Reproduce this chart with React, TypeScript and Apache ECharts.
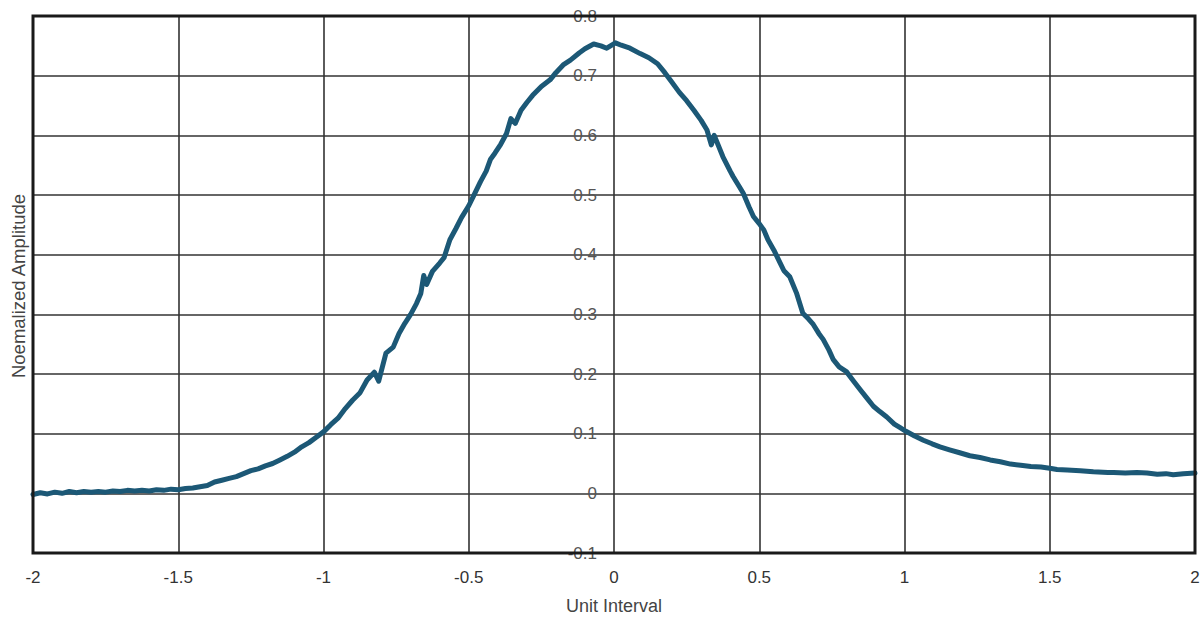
import React, { useEffect, useRef } from "react";
import * as echarts from "echarts";

const xValues: number[] = [
  -2.0, -1.975, -1.95, -1.925, -1.9, -1.875, -1.85, -1.825, -1.8, -1.775, -1.75, -1.725, -1.7, -1.675, -1.65, -1.625,
  -1.6, -1.575, -1.55, -1.525, -1.5, -1.475, -1.45, -1.425, -1.4, -1.375, -1.35, -1.325, -1.3, -1.275, -1.25, -1.225,
  -1.2, -1.175, -1.15, -1.125, -1.1, -1.075, -1.05, -1.025, -1.0, -0.975, -0.95, -0.925, -0.9, -0.875, -0.85, -0.825,
  -0.81, -0.785, -0.76, -0.74, -0.72, -0.7, -0.68, -0.665, -0.655, -0.645, -0.625, -0.6, -0.585, -0.565, -0.545, -0.525,
  -0.5, -0.48, -0.46, -0.44, -0.425, -0.41, -0.39, -0.37, -0.355, -0.34, -0.32, -0.3, -0.28, -0.25, -0.22, -0.2,
  -0.175, -0.15, -0.12, -0.1, -0.07, -0.045, -0.025, -0.005, 0.005, 0.025, 0.055, 0.09, 0.12, 0.15, 0.175, 0.195,
  0.225, 0.25, 0.275, 0.3, 0.32, 0.335, 0.345, 0.375, 0.4, 0.41, 0.43, 0.445, 0.465, 0.48, 0.5, 0.515,
  0.53, 0.55, 0.57, 0.585, 0.605, 0.628, 0.65, 0.67, 0.686, 0.705, 0.72, 0.74, 0.755, 0.775, 0.8, 0.825,
  0.847, 0.87, 0.893, 0.915, 0.939, 0.965, 0.985, 1.005, 1.035, 1.065, 1.095, 1.122, 1.155, 1.19, 1.225, 1.26,
  1.295, 1.33, 1.365, 1.4, 1.435, 1.47, 1.5, 1.525, 1.56, 1.605, 1.65, 1.7, 1.72, 1.76, 1.8, 1.835,
  1.87, 1.9, 1.925, 1.96, 2.0,
];

const amplitudes: number[] = [
  -0.002, 0.001, -0.001, 0.002, 0.0, 0.003, 0.001, 0.003, 0.002, 0.003, 0.002, 0.004, 0.003, 0.005, 0.004, 0.005,
  0.004, 0.006, 0.005, 0.007, 0.006, 0.008, 0.009, 0.011, 0.013, 0.019, 0.022, 0.025, 0.028, 0.033, 0.038, 0.041,
  0.046, 0.05, 0.056, 0.062, 0.069, 0.078, 0.085, 0.094, 0.103, 0.115, 0.126, 0.142, 0.156, 0.168, 0.19, 0.203,
  0.188, 0.235, 0.245, 0.268, 0.285, 0.3, 0.318, 0.335, 0.365, 0.35, 0.372, 0.386, 0.395, 0.425, 0.443, 0.462,
  0.482, 0.502, 0.522, 0.54, 0.56, 0.57, 0.585, 0.603, 0.628, 0.62, 0.642, 0.655, 0.667, 0.682, 0.693, 0.705,
  0.718, 0.726, 0.738, 0.745, 0.753, 0.75, 0.746, 0.752, 0.755, 0.751, 0.746, 0.737, 0.73, 0.72, 0.705, 0.692,
  0.672, 0.658, 0.642, 0.625, 0.609, 0.584, 0.6, 0.564, 0.54, 0.531, 0.515, 0.503, 0.48, 0.464, 0.452, 0.442,
  0.425, 0.408, 0.388, 0.373, 0.363, 0.336, 0.302, 0.292, 0.283, 0.268, 0.258, 0.24, 0.224, 0.212, 0.204, 0.188,
  0.174, 0.16, 0.146, 0.137, 0.128, 0.116, 0.11, 0.104, 0.096, 0.089, 0.083, 0.078, 0.073, 0.068, 0.063, 0.06,
  0.056, 0.053, 0.049, 0.047, 0.045, 0.044, 0.042, 0.04, 0.039, 0.038, 0.036, 0.035, 0.035, 0.034, 0.035, 0.034,
  0.032, 0.033, 0.031, 0.033, 0.034,
];

const xAxisTitle = "Unit Interval";
const yAxisTitle = "Noemalized Amplitude";

const FONT = "'Liberation Sans', Arial, sans-serif";
const GRID_LEFT = 33;
const GRID_RIGHT = 9;
const WIDTH = 1204;

export default function App() {
  const ref = useRef<HTMLDivElement>(null);

  useEffect(() => {
    if (!ref.current) return;
    const chart = echarts.init(ref.current, undefined, { renderer: "svg" });
    const seriesData = xValues.map((x, i) => [x, amplitudes[i]]);
    const plotWidth = WIDTH - GRID_LEFT - GRID_RIGHT;
    chart.setOption({
      animation: false,
      backgroundColor: "#ffffff",
      grid: {
        left: GRID_LEFT,
        right: GRID_RIGHT,
        top: 16,
        bottom: 64,
        containLabel: false,
        outerBoundsMode: "none",
        show: true,
        borderColor: "#1a1a1a",
        borderWidth: 3,
        backgroundColor: "transparent",
        z: 10,
      },
      xAxis: {
        type: "value",
        min: -2,
        max: 2,
        interval: 0.5,
        name: xAxisTitle,
        nameLocation: "middle",
        nameGap: 44,
        nameTextStyle: { fontFamily: FONT, fontSize: 18, color: "#444" },
        axisLine: { show: false, onZero: false },
        axisTick: { show: false },
        axisLabel: {
          fontFamily: FONT,
          fontSize: 17,
          color: "#333",
          margin: 16,
          showMinLabel: true,
          showMaxLabel: true,
        },
        splitLine: { show: true, lineStyle: { color: "#333", width: 1.6 } },
      },
      yAxis: {
        type: "value",
        min: -0.1,
        max: 0.8,
        interval: 0.1,
        position: "left",
        offset: -plotWidth / 2,
        axisLine: { show: false, onZero: false },
        axisTick: { show: false },
        axisLabel: {
          fontFamily: FONT,
          fontSize: 17,
          color: "#555",
          margin: 17,
          showMinLabel: true,
          showMaxLabel: true,
          formatter: (v: number) => {
            const r = Math.round(v * 10) / 10;
            return r === 0 ? "0" : r.toFixed(1);
          },
        },
        splitLine: { show: true, lineStyle: { color: "#333", width: 1.6 } },
      },
      graphic: [
        {
          type: "text",
          x: 18,
          y: 286,
          rotation: Math.PI / 2,
          style: {
            text: yAxisTitle,
            fontFamily: FONT,
            fontSize: 18.5,
            fill: "#444",
            align: "center",
            verticalAlign: "middle",
          },
        },
      ],
      series: [
        {
          type: "line",
          data: seriesData,
          showSymbol: false,
          symbol: "none",
          smooth: false,
          lineStyle: { color: "#1c5876", width: 5, join: "round", cap: "round" },
          z: 5,
        },
      ],
    });
    return () => chart.dispose();
  }, []);

  return (
    <div
      ref={ref}
      style={{ position: "fixed", left: 0, top: 0, width: 1204, height: 617, background: "#fff" }}
    />
  );
}
